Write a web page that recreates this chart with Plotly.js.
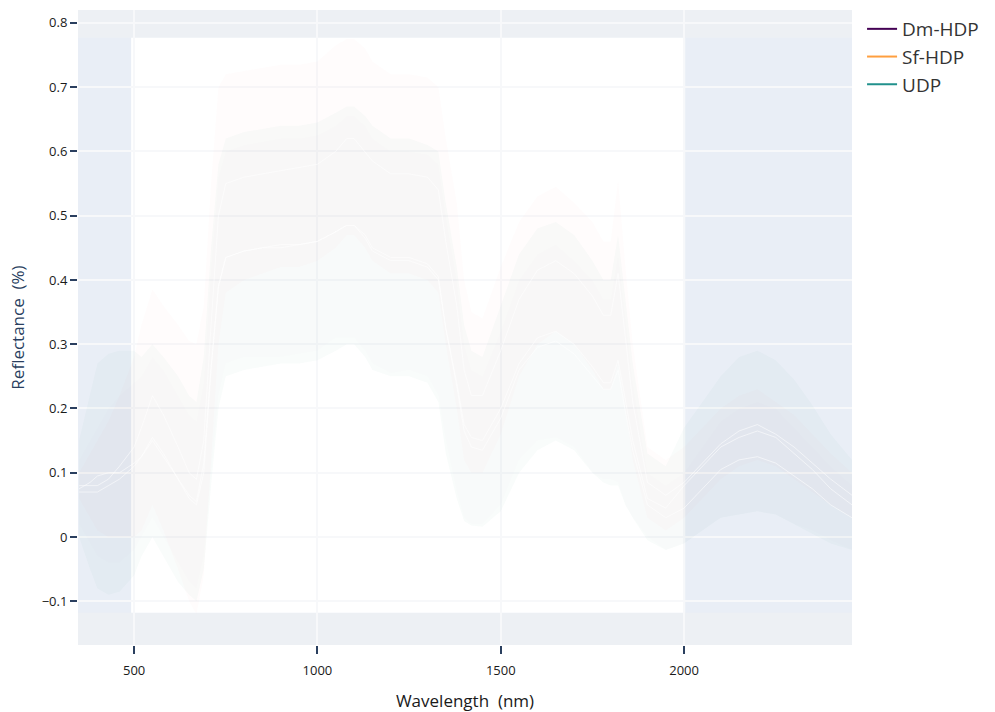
<!DOCTYPE html>
<html>
<head>
<meta charset="utf-8">
<script src="https://cdn.plot.ly/plotly-3.0.1.min.js"></script>
<style>html,body{margin:0;padding:0;background:#fff}#chart{width:995px;height:712px}</style>
</head>
<body>
<div id="chart"></div>
<script>
// Wavelength grid (nm)
var wavelength = [350,380,400,430,460,500,520,550,580,620,650,670,690,710,730,750,800,850,900,950,1000,1050,1080,1100,1130,1150,1200,1250,1300,1330,1350,1380,1400,1420,1450,1500,1550,1600,1650,1700,1750,1780,1800,1820,1840,1860,1900,1950,2000,2050,2100,2150,2200,2250,2300,2350,2400,2458];

var groupNames = ["Dm-HDP", "Sf-HDP", "UDP"];

// Dm-HDP band and mean
var dmUpper = [0.12,0.15,0.17,0.20,0.22,0.24,0.25,0.28,0.26,0.22,0.19,0.18,0.24,0.42,0.56,0.60,0.61,0.615,0.62,0.62,0.625,0.64,0.655,0.655,0.64,0.62,0.60,0.60,0.595,0.58,0.50,0.40,0.30,0.26,0.25,0.32,0.40,0.44,0.455,0.43,0.40,0.37,0.37,0.44,0.34,0.24,0.10,0.08,0.10,0.14,0.18,0.20,0.21,0.20,0.17,0.14,0.11,0.08];
var dmLower = [0.02,-0.01,-0.03,-0.04,-0.04,-0.02,0.0,0.03,0.0,-0.04,-0.07,-0.08,-0.03,0.10,0.22,0.27,0.28,0.28,0.28,0.285,0.29,0.31,0.31,0.31,0.29,0.27,0.255,0.26,0.25,0.22,0.15,0.07,0.03,0.02,0.02,0.05,0.12,0.15,0.155,0.14,0.10,0.09,0.09,0.085,0.05,0.03,0.0,-0.02,-0.01,0.01,0.03,0.035,0.04,0.035,0.02,0.01,-0.005,-0.02];
var dmMean  = [0.07,0.07,0.07,0.08,0.09,0.11,0.125,0.155,0.13,0.09,0.06,0.05,0.10,0.26,0.39,0.435,0.445,0.45,0.45,0.455,0.46,0.475,0.485,0.485,0.465,0.445,0.43,0.43,0.42,0.40,0.325,0.235,0.165,0.14,0.135,0.185,0.26,0.295,0.305,0.285,0.25,0.23,0.23,0.26,0.195,0.135,0.05,0.03,0.045,0.075,0.105,0.12,0.125,0.115,0.095,0.075,0.05,0.03];

// Sf-HDP band and mean
var sfUpper = [0.10,0.13,0.15,0.18,0.22,0.28,0.33,0.385,0.36,0.33,0.305,0.30,0.36,0.55,0.70,0.72,0.725,0.73,0.735,0.735,0.74,0.765,0.775,0.775,0.76,0.74,0.72,0.72,0.715,0.70,0.62,0.52,0.40,0.35,0.34,0.42,0.49,0.53,0.545,0.52,0.49,0.46,0.46,0.555,0.42,0.30,0.14,0.12,0.14,0.17,0.20,0.22,0.23,0.21,0.19,0.16,0.13,0.10];
var sfLower = [0.06,0.03,0.01,0.0,0.0,0.0,0.01,0.05,0.01,-0.05,-0.10,-0.12,-0.06,0.12,0.30,0.38,0.40,0.41,0.42,0.42,0.43,0.45,0.47,0.47,0.45,0.43,0.41,0.41,0.40,0.38,0.30,0.20,0.12,0.10,0.10,0.16,0.25,0.30,0.32,0.30,0.26,0.23,0.23,0.27,0.20,0.12,0.03,0.01,0.03,0.06,0.09,0.11,0.12,0.11,0.09,0.07,0.05,0.03];
var sfMean  = [0.08,0.08,0.08,0.09,0.11,0.14,0.17,0.22,0.19,0.14,0.10,0.09,0.15,0.33,0.50,0.55,0.56,0.565,0.57,0.575,0.58,0.60,0.62,0.62,0.60,0.585,0.565,0.565,0.56,0.54,0.46,0.36,0.26,0.22,0.22,0.29,0.37,0.415,0.43,0.41,0.375,0.345,0.345,0.41,0.31,0.21,0.085,0.065,0.085,0.115,0.145,0.165,0.175,0.16,0.14,0.115,0.09,0.065];

// UDP band and mean
var udpUpper = [0.15,0.22,0.27,0.285,0.29,0.29,0.28,0.30,0.28,0.25,0.22,0.21,0.28,0.45,0.58,0.62,0.63,0.635,0.64,0.64,0.645,0.66,0.67,0.67,0.655,0.64,0.62,0.62,0.61,0.60,0.52,0.42,0.33,0.29,0.28,0.36,0.44,0.48,0.49,0.47,0.43,0.40,0.40,0.47,0.37,0.27,0.13,0.11,0.17,0.21,0.25,0.28,0.29,0.275,0.245,0.205,0.16,0.12];
var udpLower = [0.0,-0.05,-0.08,-0.09,-0.085,-0.06,-0.03,0.0,-0.03,-0.07,-0.09,-0.10,-0.05,0.08,0.20,0.25,0.26,0.265,0.27,0.27,0.275,0.29,0.30,0.30,0.28,0.26,0.25,0.25,0.24,0.21,0.13,0.06,0.025,0.018,0.016,0.04,0.10,0.135,0.15,0.135,0.10,0.085,0.08,0.08,0.05,0.03,-0.005,-0.02,-0.01,0.01,0.03,0.035,0.04,0.035,0.02,0.005,-0.01,-0.02];
var udpMean  = [0.075,0.085,0.095,0.10,0.10,0.115,0.125,0.15,0.125,0.09,0.065,0.055,0.115,0.265,0.39,0.435,0.445,0.45,0.455,0.455,0.46,0.475,0.485,0.485,0.47,0.45,0.435,0.435,0.425,0.405,0.325,0.24,0.175,0.155,0.15,0.20,0.27,0.31,0.32,0.30,0.265,0.24,0.24,0.275,0.21,0.15,0.06,0.045,0.08,0.11,0.14,0.155,0.165,0.155,0.13,0.105,0.075,0.05];

var legendColors = ["#440154", "#ff9f3f", "#21918c"];
var bandFills = ["rgba(68,1,84,0.008)", "rgba(240,100,80,0.02)", "rgba(40,140,100,0.028)"];

var uppers = [dmUpper, sfUpper, udpUpper];
var lowers = [dmLower, sfLower, udpLower];
var means = [dmMean, sfMean, udpMean];

var traces = [];
var revWl = wavelength.slice().reverse();
for (var g = 0; g < 3; g++) {
  traces.push({
    type: "scatter", mode: "lines",
    x: wavelength.concat(revWl),
    y: uppers[g].concat(lowers[g].slice().reverse()),
    fill: "toself", fillcolor: bandFills[g],
    line: {width: 0}, showlegend: false, hoverinfo: "skip"
  });
}
for (var g = 0; g < 3; g++) {
  traces.push({
    type: "scatter", mode: "lines",
    x: wavelength, y: means[g],
    line: {color: "rgba(255,255,255,0.55)", width: 1},
    showlegend: false, hoverinfo: "skip"
  });
}
for (var g = 0; g < 3; g++) {
  traces.push({
    type: "scatter", mode: "lines",
    x: [null], y: [null], name: groupNames[g],
    line: {color: legendColors[g], width: 2}
  });
}

var layout = {
  width: 995, height: 712,
  margin: {l: 78, r: 143, t: 10, b: 67, autoexpand: false},
  paper_bgcolor: "#ffffff",
  plot_bgcolor: "#edf0f4",
  font: {family: "Open Sans, Noto Sans, sans-serif", size: 13, color: "#1a1a1a"},
  showlegend: true,
  legend: {x: 1.013, y: 1, xanchor: "left", yanchor: "top", font: {size: 19, color: "#333"}, bgcolor: "rgba(255,255,255,0)"},
  xaxis: {
    range: [347, 2458], dtick: 500, tick0: 0,
    showgrid: true, gridcolor: "#f7f8fa", gridwidth: 2, zeroline: false,
    ticks: "outside", ticklen: 8, tickwidth: 2, tickcolor: "#2a3f5f",
    ticklabelstandoff: 5,
    tickfont: {size: 13, color: "#1a1a1a"},
    title: {text: "Wavelength  (nm)", font: {size: 17, color: "#1a1a1a"}, standoff: 20},
    showline: false
  },
  yaxis: {
    range: [-0.168, 0.82], dtick: 0.1, tick0: 0,
    showgrid: true, gridcolor: "#f7f8fa", gridwidth: 2, zeroline: false,
    ticks: "outside", ticklen: 7, tickwidth: 2, tickcolor: "#2a3f5f",
    tickfont: {size: 13, color: "#1a1a1a"},
    title: {text: "Reflectance  (%)", font: {size: 17, color: "#2a3f5f"}, standoff: 12},
    showline: false
  },
  shapes: [
    {type: "rect", xref: "paper", x0: 0, x1: 1, yref: "y", y0: -0.118, y1: 0.777,
     fillcolor: "#e9eef6", line: {width: 0}, layer: "below"},
    {type: "rect", xref: "x", x0: 492, x1: 2003, yref: "y", y0: -0.118, y1: 0.777,
     fillcolor: "#ffffff", line: {width: 0}, layer: "below"}
  ]
};

Plotly.newPlot("chart", traces, layout, {displayModeBar: false, staticPlot: true});
</script>
</body>
</html>
